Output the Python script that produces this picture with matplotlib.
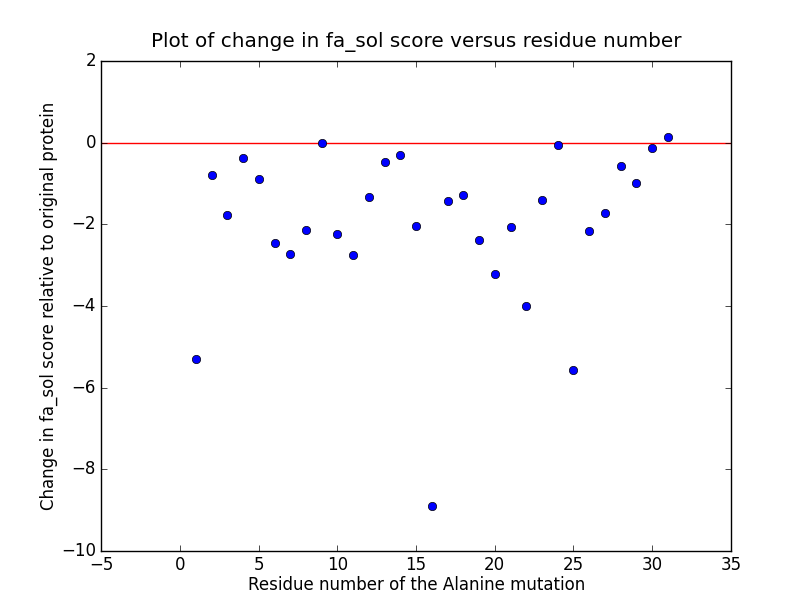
import matplotlib
matplotlib.use("Agg")
from matplotlib import pyplot as plt

residues = list(range(1, 32))
delta_fa_sol = [-5.30, -0.79, -1.77, -0.37, -0.89, -2.46, -2.73, -2.14, 0.0, -2.24,
                -2.75, -1.33, -0.47, -0.30, -2.04, -8.90, -1.43, -1.28, -2.38, -3.22,
                -2.06, -4.00, -1.40, -0.06, -5.57, -2.16, -1.72, -0.57, -0.99, -0.13,
                0.14]

plt.style.use('classic')
fig = plt.figure(figsize=(8.12, 6.12), dpi=100)
ax = fig.add_axes([0.125, 0.1, 0.775, 0.8])

ax.axhline(0, color='red')
ax.plot(residues, delta_fa_sol, 'o', color='blue', markeredgecolor='black', markersize=6)

ax.set_xlim(-5, 35)
ax.set_ylim(-10, 2)
ax.set_title("Plot of change in fa_sol score versus residue number", pad=10)
ax.set_xlabel("Residue number of the Alanine mutation", labelpad=1.5)
ax.set_ylabel("Change in fa_sol score relative to original protein", labelpad=2)

fig.savefig("out.png", dpi=100)
